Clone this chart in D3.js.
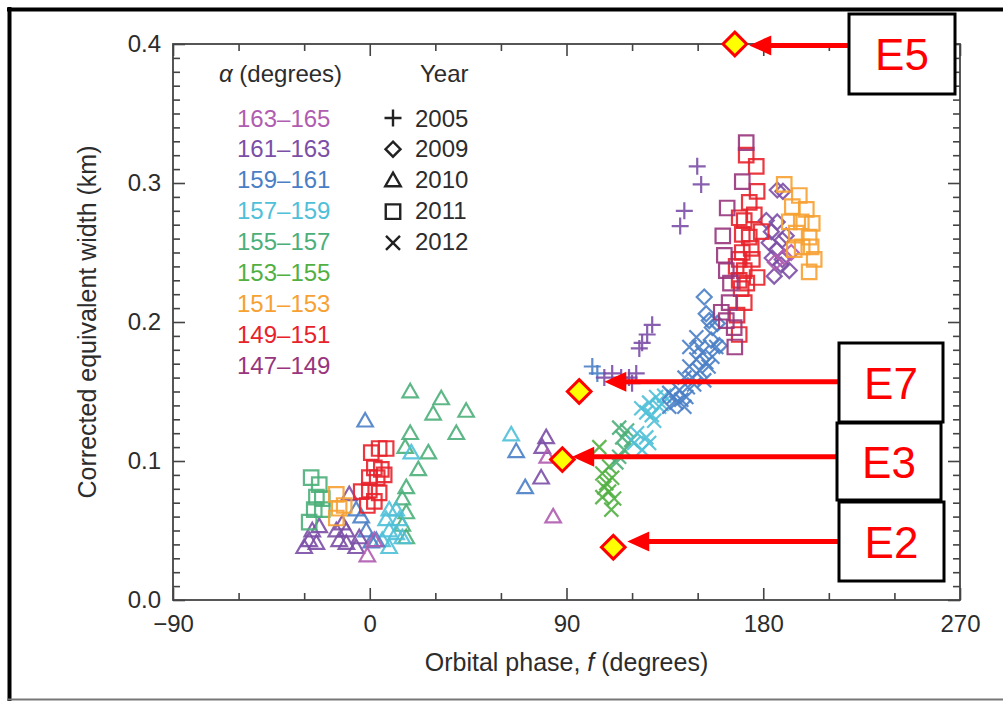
<!DOCTYPE html>
<html>
<head>
<meta charset="utf-8">
<script src="https://cdn.jsdelivr.net/npm/d3@7"></script>
<style>
  html, body { margin: 0; padding: 0; background: #fff; }
  svg { display: block; font-family: "Liberation Sans", Arial, Helvetica, sans-serif; }
</style>
</head>
<body>
<svg id="chart" width="1003" height="701"></svg>
<script>
// ---- values ----
const alphaBins = ["163–165", "161–163", "159–161", "157–159", "155–157", "153–155", "151–153", "149–151", "147–149"];
const binColors = ["#b05cb0", "#7b4fa6", "#4a7fc6", "#4fc0d8", "#4caf7a", "#52b043", "#f6a132", "#e8222b", "#98357c"];
const years = ["2005", "2009", "2010", "2011", "2012"];
const xTicks = [-90, 0, 90, 180, 270];
const xMinorTicks = [-60, -30, 30, 60, 120, 150, 210, 240];
const yTicks = [0, 0.1, 0.2, 0.3, 0.4];

// [orbital phase (deg), corrected equivalent width (km), alpha bin index]
const pts2005 = [
  [101.8, .168, 2], [104.1, .163, 2],
  [107.3, .160, 1], [110.9, .163, 1], [115.0, .160, 1], [118.6, .160, 1], [121.9, .163, 1], [120.0, .156, 1],
  [123.3, .181, 1], [124.6, .185, 1], [126.9, .191, 1], [129.2, .198, 1],
  [142.0, .269, 1], [143.9, .280, 1], [149.8, .312, 1], [151.6, .299, 1]
];
const pts2009 = [
  [153.0, .218, 2], [153.9, .206, 2], [155.3, .201, 2], [156.7, .196, 2], [159.0, .199, 2], [156.2, .187, 2], [159.9, .183, 2],
  [186.4, .295, 1], [181.4, .273, 1], [186.4, .272, 1], [183.7, .265, 1], [188.7, .259, 1], [182.7, .257, 1],
  [186.0, .252, 1], [184.1, .246, 1], [188.7, .245, 1], [191.9, .237, 1], [188.2, .241, 1], [189.0, .294, 1],
  [190.5, .262, 1], [185.0, .233, 1],
  [189.6, .247, 0], [185.5, .243, 0], [192.8, .250, 0]
];
const pts2010 = [
  [18.5, .150, 4], [32.7, .145, 4], [44.1, .136, 4], [29.0, .134, 4], [39.6, .120, 4], [18.5, .120, 4], [16.2, .110, 4],
  [26.8, .106, 4], [22.2, .094, 4], [16.7, .081, 4], [14.9, .073, 4], [16.7, .063, 4], [14.9, .054, 4], [16.7, .045, 4],
  [19.0, .106, 3], [8.9, .065, 3], [12.1, .065, 3], [7.5, .058, 3], [13.5, .058, 3], [8.9, .050, 3], [12.1, .048, 3],
  [5.7, .043, 3], [14.9, .045, 3], [8.9, .038, 3], [64.7, .119, 3],
  [-2.1, .129, 2], [67.0, .107, 2], [71.1, .081, 2], [-6.2, .065, 2], [-3.9, .060, 2], [-1.6, .050, 2], [0.7, .042, 2], [3.0, .043, 2],
  [80.7, .117, 1], [78.9, .110, 1], [78.4, .088, 1], [-9.4, .076, 1], [-26.3, .050, 1], [-23.1, .053, 1], [-27.7, .043, 1],
  [-24.4, .041, 1], [-15.3, .050, 1], [-12.6, .055, 1], [-10.7, .050, 1], [-14.0, .043, 1], [-10.7, .041, 1], [-4.8, .045, 1],
  [-6.2, .038, 1], [-30.0, .038, 1],
  [81.2, .103, 0], [83.9, .060, 0], [2.1, .043, 0], [-1.1, .032, 0]
];
const pts2011 = [
  [-26.8, .088, 4], [-23.1, .083, 4], [-24.4, .074, 4], [-21.7, .073, 4], [-25.4, .065, 4], [-21.7, .065, 4], [-27.7, .056, 4],
  [-15.3, .076, 6], [-14.0, .066, 6], [-15.3, .059, 6], [-11.7, .068, 6],
  [189.6, .299, 6], [193.3, .283, 6], [199.7, .281, 6], [191.9, .272, 6], [197.4, .272, 6], [202.4, .271, 6], [195.1, .264, 6],
  [201.0, .261, 6], [197.8, .254, 6], [201.9, .254, 6], [203.3, .245, 6], [201.0, .236, 6], [196.5, .291, 6], [194.2, .252, 6],
  [0.7, .106, 7], [4.3, .109, 7], [7.5, .109, 7], [2.1, .095, 7], [5.3, .094, 7], [-0.2, .088, 7], [3.4, .088, 7],
  [6.6, .090, 7], [-3.9, .078, 7], [-0.2, .079, 7], [4.3, .077, 7], [-1.1, .068, 7], [2.1, .071, 7],
  [172.2, .320, 7], [176.8, .312, 7], [177.2, .294, 7], [173.6, .286, 7], [171.3, .273, 7], [169.0, .275, 7], [175.9, .277, 7],
  [173.6, .261, 7], [170.4, .263, 7], [174.5, .253, 7], [170.4, .250, 7], [169.0, .245, 7], [167.6, .240, 7], [171.3, .237, 7],
  [177.2, .232, 7], [169.0, .230, 7], [169.9, .224, 7], [171.3, .214, 7], [169.0, .191, 7], [179.1, .265, 7],
  [175.0, .245, 7], [172.5, .228, 7], [168.0, .205, 7],
  [172.2, .329, 8], [170.4, .301, 8], [163.5, .282, 8], [162.2, .248, 8], [163.1, .237, 8], [160.8, .207, 8],
  [164.4, .214, 8], [163.1, .201, 8], [166.7, .196, 8], [165.0, .228, 8], [161.5, .262, 8], [167.0, .182, 8]
];
const pts2012 = [
  [105.0, .110, 5], [109.5, .096, 5], [106.4, .091, 5], [110.9, .088, 5], [108.2, .084, 5], [109.5, .078, 5],
  [106.4, .074, 5], [111.8, .073, 5], [110.5, .065, 5], [107.3, .081, 5],
  [114.1, .124, 4], [117.7, .122, 4], [115.5, .117, 4], [119.6, .115, 4], [116.4, .108, 4], [114.1, .103, 4], [112.8, .099, 4],
  [124.2, .138, 3], [127.8, .142, 3], [131.0, .146, 3], [126.5, .135, 3], [132.4, .139, 3], [122.3, .120, 3],
  [126.5, .117, 3], [120.9, .113, 3], [127.8, .113, 3], [124.6, .108, 3], [130.1, .129, 3], [134.7, .147, 3],
  [129.0, .133, 3], [133.5, .141, 3],
  [137.0, .149, 2], [141.6, .151, 2], [144.8, .146, 2], [140.2, .142, 2], [143.9, .139, 2], [137.0, .139, 2],
  [146.2, .168, 2], [149.4, .173, 2], [152.1, .178, 2], [147.5, .160, 2], [153.9, .171, 2], [156.7, .175, 2],
  [158.5, .182, 2], [150.7, .182, 2], [146.2, .182, 2], [149.4, .189, 2], [153.0, .158, 2], [148.4, .155, 2],
  [139.0, .146, 2], [142.5, .144, 2], [145.5, .153, 2], [151.0, .165, 2], [155.0, .168, 2], [144.0, .160, 2]
];

// highlighted events and where their arrows point
const eventLabels = ["E5", "E7", "E3", "E2"];
const eventPhase = [167.0, 95.8, 88.1, 111.4];
const eventWidth = [0.400, 0.150, 0.101, 0.038];
const arrowPhase = [173.6, 107.3, 92.6, 117.8];
const arrowWidth = [0.399, 0.157, 0.103, 0.042];

// ---- layout ----
const plot = { left: 173, right: 960, top: 44, bottom: 600 };
const boxes = [
  { x: 849, y: 14, w: 106, h: 80 },
  { x: 839, y: 343, w: 104, h: 79 },
  { x: 837, y: 423, w: 104, h: 77 },
  { x: 839, y: 502, w: 105, h: 79 }
];
const textColor = "#2c2c2c";
const axisColor = "#444";

const svg = d3.select("#chart");
const x = d3.scaleLinear().domain([-90, 270]).range([plot.left, plot.right]);
const y = d3.scaleLinear().domain([0, 0.4]).range([plot.bottom, plot.top]);

// outer frame of the figure
svg.append("line").attr("x1", 7).attr("x2", 1003).attr("y1", 9.5).attr("y2", 9.5)
  .attr("stroke", "#000").attr("stroke-width", 4);
svg.append("line").attr("x1", 9.5).attr("x2", 9.5).attr("y1", 7).attr("y2", 701)
  .attr("stroke", "#000").attr("stroke-width", 4);
svg.append("line").attr("x1", 7).attr("x2", 1003).attr("y1", 699.5).attr("y2", 699.5)
  .attr("stroke", "#777").attr("stroke-width", 2);

// ---- marker shapes (stroke-only) ----
const symPlus = { draw(c, s) { const r = Math.sqrt(s) / 2; c.moveTo(-r, 0); c.lineTo(r, 0); c.moveTo(0, -r); c.lineTo(0, r); } };
const symTimes = { draw(c, s) { const r = Math.sqrt(s) / 2; c.moveTo(-r, -r); c.lineTo(r, r); c.moveTo(r, -r); c.lineTo(-r, r); } };
const symSquare = { draw(c, s) { const r = Math.sqrt(s) / 2; c.rect(-r, -r, 2 * r, 2 * r); } };
const symTri = { draw(c, s) { const r = Math.sqrt(s) / 2; c.moveTo(0, -r); c.lineTo(r, r * 0.75); c.lineTo(-r, r * 0.75); c.closePath(); } };
const symDiamond = { draw(c, s) { const r = Math.sqrt(s) / 2; c.moveTo(0, -r); c.lineTo(r, 0); c.lineTo(0, r); c.lineTo(-r, 0); c.closePath(); } };

const yearShapes = [
  { type: symPlus, size: 289 },
  { type: symDiamond, size: 225 },
  { type: symTri, size: 240 },
  { type: symSquare, size: 210 },
  { type: symTimes, size: 196 }
];
const yearData = [pts2005, pts2009, pts2010, pts2011, pts2012];

// ---- axes ----
const axes = svg.append("g").attr("class", "axes");
function styleAxis(g) {
  g.select(".domain").remove();
  g.selectAll(".tick line").attr("stroke", axisColor).attr("stroke-width", 1.6);
  g.selectAll(".tick text").attr("fill", textColor).attr("font-size", 24)
    .attr("font-family", "\"Liberation Sans\", Arial, sans-serif");
}
const yMinor = d3.range(1, 40).map(i => i / 100).filter(v => Math.round(v * 100) % 10 !== 0);

axes.append("g").attr("transform", `translate(0,${y(0)})`)
  .call(d3.axisBottom(x).tickValues(xTicks).tickSize(-12).tickPadding(15).tickFormat(d3.format("d")))
  .call(styleAxis);
axes.append("g").attr("transform", `translate(0,${y(0)})`)
  .call(d3.axisBottom(x).tickValues(xMinorTicks).tickSize(-7).tickFormat(""))
  .call(styleAxis);
axes.append("g").attr("transform", `translate(0,${y(0.4)})`)
  .call(d3.axisTop(x).tickValues(xTicks).tickSize(-12).tickFormat(""))
  .call(styleAxis);
axes.append("g").attr("transform", `translate(0,${y(0.4)})`)
  .call(d3.axisTop(x).tickValues(xMinorTicks).tickSize(-7).tickFormat(""))
  .call(styleAxis);
axes.append("g").attr("transform", `translate(${x(-90)},0)`)
  .call(d3.axisLeft(y).tickValues(yTicks).tickSize(-12).tickPadding(12).tickFormat(d3.format(".1f")))
  .call(styleAxis);
axes.append("g").attr("transform", `translate(${x(-90)},0)`)
  .call(d3.axisLeft(y).tickValues(yMinor).tickSize(-7).tickFormat(""))
  .call(styleAxis);
axes.append("g").attr("transform", `translate(${x(270)},0)`)
  .call(d3.axisRight(y).tickValues(yTicks).tickSize(-12).tickFormat(""))
  .call(styleAxis);
axes.append("g").attr("transform", `translate(${x(270)},0)`)
  .call(d3.axisRight(y).tickValues(yMinor).tickSize(-7).tickFormat(""))
  .call(styleAxis);

svg.append("rect")
  .attr("x", x(-90)).attr("y", y(0.4))
  .attr("width", x(270) - x(-90)).attr("height", y(0) - y(0.4))
  .attr("fill", "none").attr("stroke", axisColor).attr("stroke-width", 1.8);

// axis titles
const xTitle = svg.append("text")
  .attr("x", (x(-90) + x(270)) / 2).attr("y", 671)
  .attr("text-anchor", "middle").attr("font-size", 25).attr("fill", textColor);
xTitle.append("tspan").text("Orbital phase, ");
xTitle.append("tspan").attr("font-style", "italic").text("f");
xTitle.append("tspan").text(" (degrees)");

svg.append("text")
  .attr("transform", `translate(96,${(y(0) + y(0.4)) / 2}) rotate(-90)`)
  .attr("text-anchor", "middle").attr("font-size", 25).attr("fill", textColor)
  .text("Corrected equivalent width (km)");

// ---- legend ----
const legend = svg.append("g").attr("class", "legend");
const alphaHead = legend.append("text").attr("x", 219).attr("y", 82)
  .attr("font-size", 24).attr("fill", textColor);
alphaHead.append("tspan").attr("font-style", "italic").text("α");
alphaHead.append("tspan").text(" (degrees)");
legend.append("text").attr("x", 420).attr("y", 82)
  .attr("font-size", 24).attr("fill", textColor).text("Year");

legend.selectAll("text.bin").data(alphaBins).join("text")
  .attr("class", "bin")
  .attr("x", 237).attr("y", (d, i) => 126.5 + i * 30.9)
  .attr("font-size", 24).attr("fill", (d, i) => binColors[i])
  .text(d => d);

legend.selectAll("path.yr").data(years).join("path")
  .attr("class", "yr")
  .attr("transform", (d, i) => `translate(393,${118 + i * 31.2})`)
  .attr("d", (d, i) => d3.symbol().type(yearShapes[i].type).size(yearShapes[i].size)())
  .attr("fill", "none").attr("stroke", "#222").attr("stroke-width", 2.4);

legend.selectAll("text.yr").data(years).join("text")
  .attr("class", "yr")
  .attr("x", 415).attr("y", (d, i) => 126.5 + i * 30.9)
  .attr("font-size", 24).attr("fill", textColor)
  .text(d => d);

// ---- observations ----
const marks = svg.append("g").attr("class", "marks");
yearData.forEach((pts, yi) => {
  const gen = d3.symbol().type(yearShapes[yi].type).size(yearShapes[yi].size);
  marks.append("g").attr("class", "year-" + years[yi])
    .selectAll("path").data(pts).join("path")
    .attr("transform", d => `translate(${x(d[0])},${y(d[1])})`)
    .attr("d", gen)
    .attr("fill", "none")
    .attr("stroke", d => binColors[d[2]])
    .attr("stroke-width", 2.2)
    .attr("stroke-opacity", 0.9);
});

// ---- event annotations ----
const events = eventLabels.map((label, i) => ({
  label, f: eventPhase[i], w: eventWidth[i], af: arrowPhase[i], aw: arrowWidth[i], box: boxes[i]
}));
const ann = svg.append("g").attr("class", "events");

ann.selectAll("path.event").data(events).join("path")
  .attr("class", "event")
  .attr("transform", d => `translate(${x(d.f)},${y(d.w)})`)
  .attr("d", d3.symbol().type(symDiamond).size(560))
  .attr("fill", "#ffff00").attr("stroke", "#ff0000").attr("stroke-width", 3)
  .attr("stroke-linejoin", "miter");

ann.selectAll("line.arrow").data(events).join("line")
  .attr("class", "arrow")
  .attr("x1", d => d.box.x).attr("x2", d => x(d.af) + 18)
  .attr("y1", d => y(d.aw)).attr("y2", d => y(d.aw))
  .attr("stroke", "#ff0000").attr("stroke-width", 5);

ann.selectAll("path.head").data(events).join("path")
  .attr("class", "head")
  .attr("d", d => {
    const tx = x(d.af), ty = y(d.aw);
    return `M${tx},${ty}L${tx + 22},${ty - 10}L${tx + 22},${ty + 10}Z`;
  })
  .attr("fill", "#ff0000");

ann.selectAll("rect.box").data(events).join("rect")
  .attr("class", "box")
  .attr("x", d => d.box.x).attr("y", d => d.box.y)
  .attr("width", d => d.box.w).attr("height", d => d.box.h)
  .attr("fill", "#fff").attr("stroke", "#000").attr("stroke-width", 3);

ann.selectAll("text.box").data(events).join("text")
  .attr("class", "box")
  .attr("x", d => d.box.x + d.box.w / 2).attr("y", d => d.box.y + d.box.h / 2 + 16)
  .attr("text-anchor", "middle").attr("font-size", 44).attr("fill", "#ff0000")
  .text(d => d.label);
</script>
</body>
</html>
